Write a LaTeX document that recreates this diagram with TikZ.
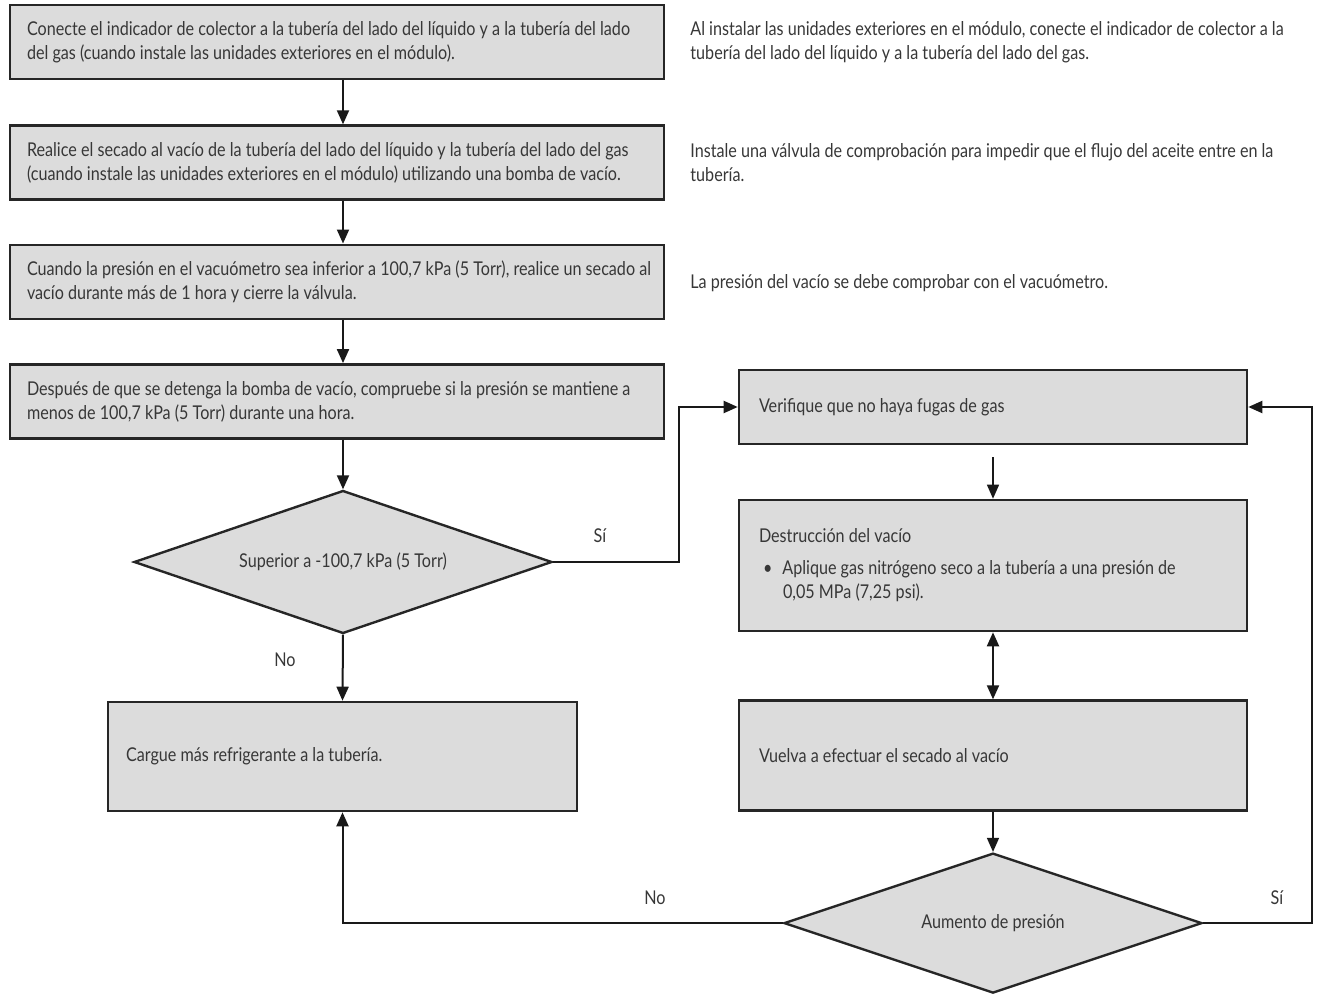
\documentclass[tikz,border=0pt]{standalone}
\usepackage{fontspec}
\setmainfont{Lato}[FakeStretch=0.85]
\usetikzlibrary{arrows.meta,positioning,shapes.geometric}
\definecolor{boxgray}{RGB}{220,220,220}
\definecolor{txtgray}{RGB}{55,55,55}
\newcommand{\flowfont}{\fontsize{9.5}{12}\selectfont}

\begin{document}
\begin{tikzpicture}[x=0.5pt,y=-0.5pt,
  box/.style={draw=black!85,line width=1.3pt,fill=boxgray,text=txtgray,align=flush left,font=\flowfont,inner xsep=8.5pt,inner ysep=0pt,minimum height=37pt},
  rbox/.style={box,inner xsep=10pt,text width=234pt},
  decision/.style={diamond,draw=black!85,line width=1.2pt,fill=boxgray,text=txtgray,font=\flowfont,inner sep=0pt,minimum width=209pt,minimum height=71.5pt,shape aspect=2.92},
  note/.style={text=txtgray,align=left,font=\flowfont,inner sep=0pt,anchor=west},
  lbl/.style={text=txtgray,font=\flowfont,inner sep=0pt},
  arr/.style={-{Triangle[length=7pt,width=6pt]},line width=1pt,black!90},
  >={Triangle[length=7pt,width=6pt]}]
\useasboundingbox (0,0) rectangle (1318,995);
% left column
\node[box,text width=310pt] (connect) at (337,42) {Conecte el indicador de colector a la tubería del lado del líquido y a la tubería del lado\\del gas (cuando instale las unidades exteriores en el módulo).};
\node[box,text width=310pt,below=22pt of connect] (dry) {Realice el secado al vacío de la tubería del lado del líquido y la tubería del lado del gas\\(cuando instale las unidades exteriores en el módulo) utilizando una bomba de vacío.};
\node[box,text width=310pt,below=21.3pt of dry] (gauge) {\mbox{Cuando la presión en el vacuómetro sea inferior a 100,7 kPa (5 Torr), realice un secado al}\\vacío durante más de 1 hora y cierre la válvula.};
\node[box,text width=310pt,below=21.5pt of gauge] (hold) {Después de que se detenga la bomba de vacío, compruebe si la presión se mantiene a\\menos de 100,7 kPa (5 Torr) durante una hora.};
\node[decision] (check) at (343,562) {Superior a -100,7 kPa (5 Torr)};
\node[box,text width=216.5pt,inner xsep=9pt,minimum height=54.5pt] (charge) at (342.5,756.5) {Cargue más refrigerante a la tubería.};
% right column
\node[rbox] (leak) at (993,407) {Verifique que no haya fugas de gas};
\node[rbox,below=26.7pt of leak,minimum height=65.5pt] (breakvac) {Destrucción del vacío\\[4pt]\hspace*{2pt}\textbullet\hspace{5pt}Aplique gas nitrógeno seco a la tubería a una presión de\\\hspace*{12pt}0,05 MPa (7,25 psi).};
\node[rbox,below=33.5pt of breakvac,minimum height=55pt] (redry) {Vuelva a efectuar el secado al vacío};
\node[decision,below=20pt of redry,minimum height=70pt,shape aspect=2.99] (rise) {Aumento de presión};
% notes
\node[note] (note1) at (690,42) {Al instalar las unidades exteriores en el módulo, conecte el indicador de colector a la\\tubería del lado del líquido y a la tubería del lado del gas.};
\node[note] (note2) at (690,163) {Instale una válvula de comprobación para impedir que el flujo del aceite entre en la\\tubería.};
\node[note] (note3) at (690,283) {La presión del vacío se debe comprobar con el vacuómetro.};
% connectors
\draw[arr] (connect.south -| check.north) -- (dry.north -| check.north);
\draw[arr] (dry.south -| check.north) -- (gauge.north -| check.north);
\draw[arr] (gauge.south -| check.north) -- (hold.north -| check.north);
\draw[arr] (hold.south -| check.north) -- (check.north);
\draw[arr] (check.south) -- (charge.north);
\draw[arr] (check.east) -- ++(126,0) |- (leak.west);
\draw[arr,line width=0.7pt,shorten <=6pt] (leak.south) -- (breakvac.north);
\draw[arr,{Triangle[length=7pt,width=6pt]}-{Triangle[length=7pt,width=6pt]}] (breakvac.south) -- (redry.north);
\draw[arr,line width=0.7pt] (redry.south) -- (rise.north);
\draw[arr] (rise.west) -| (charge.south);
\draw[arr] (rise.east) -- ++(109,0) |- (leak.east);
% labels
\node[lbl] (yes1) at (600,536) {Sí};
\node[lbl] (no1) at (285,660) {No};
\node[lbl] (no2) at (655,898) {No};
\node[lbl] (yes2) at (1277,898) {Sí};
\end{tikzpicture}
\end{document}
